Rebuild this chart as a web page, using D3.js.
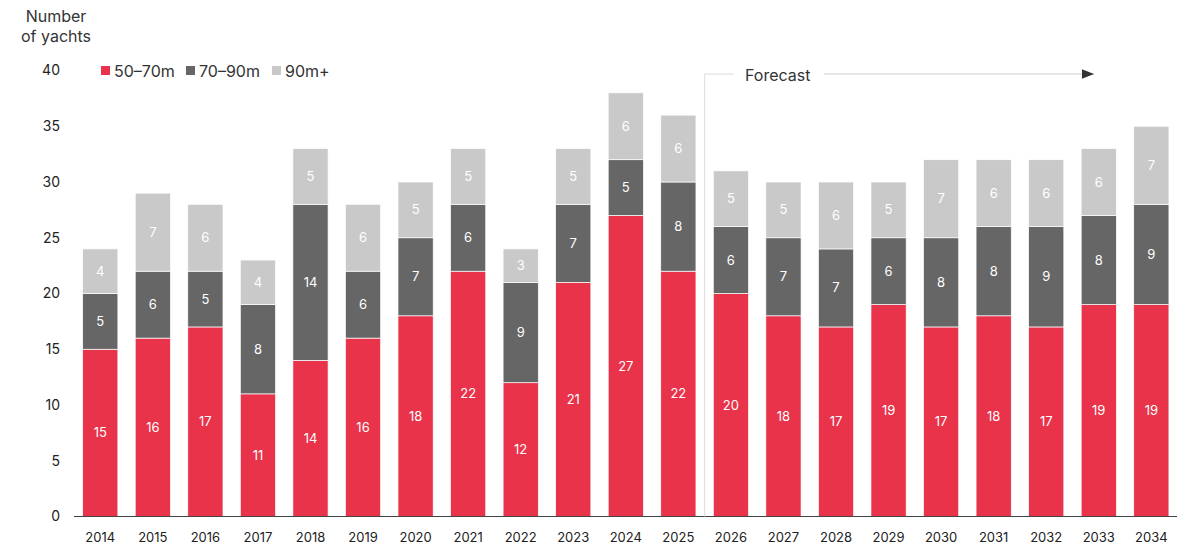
<!DOCTYPE html>
<html>
<head>
<meta charset="UTF-8">
<title>Number of yachts</title>
<script src="https://d3js.org/d3.v7.min.js"></script>
<style>
  body { margin: 0; background: #fff; }
  text { font-family: Inter, "Noto Sans", sans-serif; }
</style>
</head>
<body>
<div id="chart"></div>
<script>
var years = ["2014","2015","2016","2017","2018","2019","2020","2021","2022","2023","2024",
             "2025","2026","2027","2028","2029","2030","2031","2032","2033","2034"];
var small  = [15,16,17,11,14,16,18,22,12,21,27,22,20,18,17,19,17,18,17,19,19];
var medium = [5,6,5,8,14,6,7,6,9,7,5,8,6,7,7,6,8,8,9,8,9];
var large  = [4,7,6,4,5,6,5,5,3,5,6,6,5,5,6,5,7,6,6,6,7];
var seriesNames = ["50–70m", "70–90m", "90m+"];
var yTicks = [0,5,10,15,20,25,30,35,40];
var forecastStart = "2026";

var width = 1200, height = 552;
var colors = ["#e8334a", "#666666", "#c9c9c9"];

var svg = d3.select("#chart").append("svg")
  .attr("width", width).attr("height", height);

var x = d3.scaleBand().domain(years).range([74, 1177.6])
  .paddingInner(0.33).paddingOuter(0.165);
var y = d3.scaleLinear().domain([0, 40]).range([516.5, 70.5]);

var rows = years.map(function(yr, i) {
  return { year: yr, s0: small[i], s1: medium[i], s2: large[i] };
});
var stack = d3.stack().keys(["s0","s1","s2"])(rows);

// bars
var layers = svg.selectAll(".layer").data(stack).enter().append("g")
  .attr("fill", function(d, i) { return colors[i]; });

layers.selectAll("rect").data(function(d) { return d; }).enter().append("rect")
  .attr("x", function(d) { return x(d.data.year); })
  .attr("y", function(d) { return y(d[1]); })
  .attr("width", x.bandwidth())
  .attr("height", function(d) { return y(d[0]) - y(d[1]); })
  .attr("stroke", "#fff").attr("stroke-width", 0.7);

layers.selectAll("text").data(function(d) { return d; }).enter().append("text")
  .attr("x", function(d) { return x(d.data.year) + x.bandwidth() / 2; })
  .attr("y", function(d) { return (y(d[0]) + y(d[1])) / 2; })
  .attr("dy", "0.35em")
  .attr("text-anchor", "middle")
  .attr("fill", "#fff")
  .attr("font-size", 13)
  .text(function(d) { return d[1] - d[0]; });

// x axis
svg.append("line").attr("x1", 74).attr("x2", 1177).attr("y1", y(0)).attr("y2", y(0))
  .attr("stroke", "#444").attr("stroke-width", 1.2);

svg.selectAll(".xl").data(years).enter().append("text")
  .attr("x", function(d) { return x(d) + x.bandwidth() / 2; })
  .attr("y", 542)
  .attr("text-anchor", "middle")
  .attr("font-size", 13).attr("fill", "#222")
  .text(function(d) { return d; });

// y tick labels
svg.selectAll(".yl").data(yTicks).enter().append("text")
  .attr("x", 60).attr("y", function(d) { return y(d); })
  .attr("dy", "0.35em")
  .attr("text-anchor", "end")
  .attr("font-size", 14).attr("fill", "#222")
  .text(function(d) { return d; });

// y title
svg.append("text").attr("x", 56).attr("y", 22).attr("text-anchor", "middle")
  .attr("font-size", 16).attr("fill", "#333").text("Number");
svg.append("text").attr("x", 56).attr("y", 42).attr("text-anchor", "middle")
  .attr("font-size", 16).attr("fill", "#333").text("of yachts");

// legend
var legendX = [101, 186, 272];
seriesNames.forEach(function(name, i) {
  svg.append("rect").attr("x", legendX[i]).attr("y", 66).attr("width", 9).attr("height", 9)
    .attr("fill", colors[i]);
  svg.append("text").attr("x", legendX[i] + 13).attr("y", 71).attr("dy", "0.35em")
    .attr("font-size", 16).attr("fill", "#333").text(name);
});

// forecast marker
var fx = x(forecastStart) - (x.step() - x.bandwidth()) / 2;
svg.append("defs").append("marker").attr("id", "arrow")
  .attr("viewBox", "0 0 10 10").attr("refX", 10).attr("refY", 5)
  .attr("markerWidth", 12).attr("markerHeight", 12).attr("markerUnits", "userSpaceOnUse")
  .attr("orient", "auto")
  .append("path").attr("d", "M0,1 L10,5 L0,9 Z").attr("fill", "#333");
svg.append("line").attr("x1", fx).attr("x2", fx).attr("y1", 74).attr("y2", y(0))
  .attr("stroke", "#ddd").attr("stroke-width", 1);
svg.append("line").attr("x1", fx).attr("x2", 734).attr("y1", 74).attr("y2", 74)
  .attr("stroke", "#ddd").attr("stroke-width", 1);
svg.append("text").attr("x", 745).attr("y", 75).attr("dy", "0.35em")
  .attr("font-size", 16).attr("fill", "#333").text("Forecast");
svg.append("line").attr("x1", 824).attr("x2", 1094).attr("y1", 74).attr("y2", 74)
  .attr("stroke", "#ccc").attr("stroke-width", 1).attr("marker-end", "url(#arrow)");
</script>
</body>
</html>
